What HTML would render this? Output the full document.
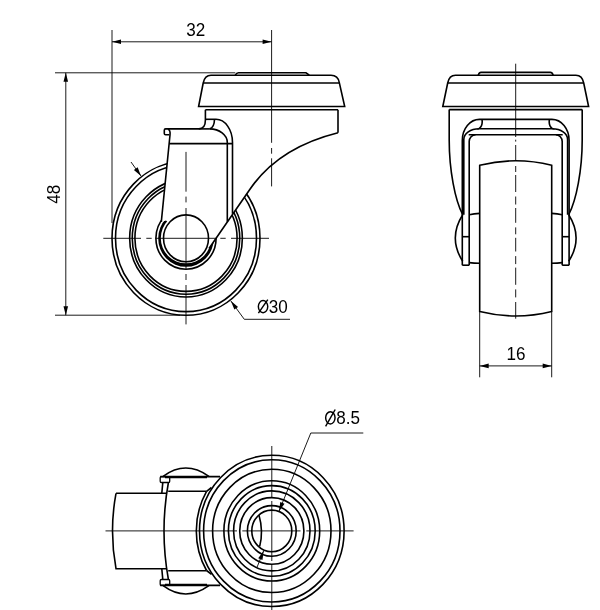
<!DOCTYPE html>
<html><head><meta charset="utf-8"><style>
html,body{margin:0;padding:0;background:#fff;}
svg{display:block;will-change:transform;}
text{font-family:"Liberation Sans",sans-serif;fill:#000;}
</style></head><body>
<svg width="600" height="610" viewBox="0 0 600 610">
<rect width="600" height="610" fill="#fff"/>
<ellipse cx="186" cy="238.3" rx="74" ry="77" stroke="#000" stroke-width="1.6" fill="none"/>
<ellipse cx="186" cy="238.3" rx="70.5" ry="73.3" stroke="#000" stroke-width="1.6" fill="none"/>
<ellipse cx="186" cy="238.3" rx="56.35" ry="58.7" stroke="#000" stroke-width="1.6" fill="none"/>
<ellipse cx="186" cy="238.3" rx="53.75" ry="55.9" stroke="#000" stroke-width="1.6" fill="none"/>
<ellipse cx="186" cy="238.3" rx="51.1" ry="53.1" stroke="#000" stroke-width="1.6" fill="none"/>
<ellipse cx="186" cy="238.3" rx="30.1" ry="30.9" stroke="#000" stroke-width="1.6" fill="none"/>
<path fill="#000" fill-rule="evenodd" d="M158.2,238.3 A27.8,28.5 0 1 0 213.8,238.3 A27.8,28.5 0 1 0 158.2,238.3 Z M160.8,238.1 A25.2,25.2 0 1 0 211.2,238.1 A25.2,25.2 0 1 0 160.8,238.1 Z"/>
<path d="M205.4,109.7 L338,109.7 L338,132.7 Q277.8,147.75 249.6,189.8 L209,248.5 L186,238 L166,220.5 L161.3,221.9 L170,135 L164.3,134.7 L164.3,129.2 L198.8,128.9 Q205.4,128.9 205.4,120 Z" fill="#fff" stroke="none"/>
<path d="M235.3,75.2 Q236.5,72.8 238.5,72.8 L306,72.8 L309.3,75.2" stroke="#000" stroke-width="1.6" fill="none"/>
<path d="M198.6,106.5 L203.2,83 Q204.8,75.3 211,75.3 L331,75.3 Q338,75.3 339.3,82.6 L344.7,106.5 Z" stroke="#000" stroke-width="1.6" fill="none"/>
<line x1="203.2" y1="83" x2="339.3" y2="83" stroke="#000" stroke-width="1.6" fill="none"/>
<line x1="205.4" y1="109.8" x2="338" y2="109.8" stroke="#000" stroke-width="1.6" fill="none"/>
<path d="M205.4,109.7 L205.4,120 Q205.4,128.9 198.8,128.9 L168,128.9" stroke="#000" stroke-width="1.6" fill="none"/>
<line x1="338" y1="109.7" x2="338" y2="132.7" stroke="#000" stroke-width="1.6" fill="none"/>
<path d="M338,132.7 Q277.8,147.75 249.6,189.8 L209,248.5" stroke="#000" stroke-width="1.6" fill="none"/>
<line x1="205.4" y1="119.3" x2="216" y2="119.3" stroke="#000" stroke-width="1.6" fill="none"/>
<path d="M214.5,119.3 Q214.3,127.8 209.6,128.9" stroke="#000" stroke-width="1.6" fill="none"/>
<line x1="198.8" y1="128.9" x2="209.6" y2="128.9" stroke="#000" stroke-width="1.6" fill="none"/>
<path d="M216,119.3 A16.5,23.2 0 0 1 232.5,142.5 L232.5,213.8" stroke="#000" stroke-width="1.6" fill="none"/>
<path d="M209.6,128.9 A17.7,13.6 0 0 1 227.3,142.5 L227.3,221.8" stroke="#000" stroke-width="1.6" fill="none"/>
<line x1="169.2" y1="143.6" x2="232.5" y2="143.6" stroke="#000" stroke-width="1.6" fill="none"/>
<path d="M168,128.9 L165.6,128.9 Q164.3,128.9 164.3,130.3 L164.3,133.4 Q164.3,134.7 165.6,134.7 L169.3,134.7" stroke="#000" stroke-width="1.6" fill="none"/>
<path d="M168,128.9 C169.6,129.6 170.3,132.5 170,135 L161.3,221.9" stroke="#000" stroke-width="1.6" fill="none"/>
<ellipse cx="186" cy="238.3" rx="22.5" ry="23.4" stroke="#000" stroke-width="1.6" fill="none"/>
<line x1="186" y1="151.9" x2="186" y2="191.7" stroke="#000" stroke-width="0.9" fill="none"/>
<line x1="186" y1="196.6" x2="186" y2="202.4" stroke="#000" stroke-width="0.9" fill="none"/>
<line x1="186" y1="208" x2="186" y2="269.4" stroke="#000" stroke-width="0.9" fill="none"/>
<line x1="186" y1="274" x2="186" y2="280" stroke="#000" stroke-width="0.9" fill="none"/>
<line x1="186" y1="285" x2="186" y2="324.4" stroke="#000" stroke-width="0.9" fill="none"/>
<line x1="103.3" y1="238.3" x2="141" y2="238.3" stroke="#000" stroke-width="0.9" fill="none"/>
<line x1="146.3" y1="238.3" x2="151.7" y2="238.3" stroke="#000" stroke-width="0.9" fill="none"/>
<line x1="155.5" y1="238.3" x2="216.5" y2="238.3" stroke="#000" stroke-width="0.9" fill="none"/>
<line x1="220.3" y1="238.3" x2="225.7" y2="238.3" stroke="#000" stroke-width="0.9" fill="none"/>
<line x1="231" y1="238.3" x2="269" y2="238.3" stroke="#000" stroke-width="0.9" fill="none"/>
<line x1="271.6" y1="30" x2="271.6" y2="142.8" stroke="#000" stroke-width="0.9" fill="none"/>
<line x1="271.6" y1="148" x2="271.6" y2="153.7" stroke="#000" stroke-width="0.9" fill="none"/>
<line x1="271.6" y1="158.3" x2="271.6" y2="186.4" stroke="#000" stroke-width="0.9" fill="none"/>
<line x1="112" y1="30" x2="112" y2="223" stroke="#000" stroke-width="0.9" fill="none"/>
<line x1="112" y1="41.8" x2="271.6" y2="41.8" stroke="#000" stroke-width="0.9" fill="none"/>
<path d="M112,41.8 L121,44.1 L121,39.5 Z" fill="#000"/>
<path d="M271.6,41.8 L262.6,39.5 L262.6,44.1 Z" fill="#000"/>
<text transform="translate(195.8 35.6) scale(0.95 1)" x="0" y="0" font-size="18" text-anchor="middle">32</text>
<line x1="55" y1="72.8" x2="235.3" y2="72.8" stroke="#000" stroke-width="0.9" fill="none"/>
<line x1="55" y1="315.2" x2="180" y2="315.2" stroke="#000" stroke-width="0.9" fill="none"/>
<line x1="65.8" y1="72.8" x2="65.8" y2="315.2" stroke="#000" stroke-width="0.9" fill="none"/>
<path d="M65.8,72.8 L63.5,81.8 L68.1,81.8 Z" fill="#000"/>
<path d="M65.8,315.2 L68.1,306.2 L63.5,306.2 Z" fill="#000"/>
<text transform="translate(60.2 194.2) rotate(-90) scale(0.95 1)" x="0" y="0" font-size="18" text-anchor="middle">48</text>
<line x1="230.9" y1="301" x2="244.3" y2="319.3" stroke="#000" stroke-width="0.9" fill="none"/>
<line x1="244.3" y1="319.3" x2="290" y2="319.3" stroke="#000" stroke-width="0.9" fill="none"/>
<path d="M230.9,301 L234.36,309.62 L238.07,306.9 Z" fill="#000"/>
<ellipse cx="263.05" cy="306.6" rx="4.7" ry="6.05" stroke="#000" stroke-width="1.45" fill="none"/>
<line x1="258.4" y1="313.2" x2="267.8" y2="299.7" stroke="#000" stroke-width="1.45"/>
<text transform="translate(268.8 312.8) scale(0.95 1)" x="0" y="0" font-size="18" text-anchor="start">30</text>
<line x1="131" y1="162" x2="141" y2="176" stroke="#000" stroke-width="0.9" fill="none"/>
<path d="M141,176 L137.64,167.34 L133.9,170.01 Z" fill="#000"/>
<path d="M478.2,75.2 Q479.3,72.4 481,72.4 L550.4,72.4 Q552.1,72.4 553.2,75.2" stroke="#000" stroke-width="1.6" fill="none"/>
<path d="M442.8,106.5 L447.7,83 Q449.2,75.2 455.5,75.2 L575.9,75.2 Q582.2,75.2 583.7,83 L588.6,106.5 Z" stroke="#000" stroke-width="1.6" fill="none"/>
<line x1="447.7" y1="83" x2="583.7" y2="83" stroke="#000" stroke-width="1.6" fill="none"/>
<line x1="449.2" y1="109.6" x2="582.2" y2="109.6" stroke="#000" stroke-width="1.6" fill="none"/>
<path d="M449.2,109.6 L449.2,140 C449.2,170 455,200 462.7,214.7" stroke="#000" stroke-width="1.6" fill="none"/>
<path d="M582.2,109.6 L582.2,140 C582.2,170 576.4,200 568.7,214.7" stroke="#000" stroke-width="1.6" fill="none"/>
<path d="M479.7,311.5 L479.7,165.3 Q515.7,156.3 551.7,165.3 L551.7,311.5 Q515.7,320.5 479.7,311.5 Z" stroke="#000" stroke-width="1.6" fill="none"/>
<path d="M462.3,265.2 L462.3,140.5 A17.2,21.1 0 0 1 479.5,119.4 L551.9,119.4 A17.2,21.1 0 0 1 569.1,140.5 L569.1,265.2" stroke="#000" stroke-width="1.6" fill="none"/>
<path d="M482,119.4 Q483,126 479,128.7 L552.4,128.7 Q548.4,126 549.4,119.4" stroke="#000" stroke-width="1.6" fill="none"/>
<path d="M463.8,214.7 L463.8,139.5 A15.2,10.8 0 0 1 479,128.7" stroke="#000" stroke-width="1.6" fill="none"/>
<path d="M567.6,214.7 L567.6,139.5 A15.2,10.8 0 0 0 552.4,128.7" stroke="#000" stroke-width="1.6" fill="none"/>
<line x1="468.7" y1="134.8" x2="562.7" y2="134.8" stroke="#000" stroke-width="1.6" fill="none"/>
<path d="M469.2,265.2 L469.2,141.5 A6.4,6.7 0 0 1 475.6,134.8" stroke="#000" stroke-width="1.6" fill="none"/>
<path d="M562.2,265.2 L562.2,141.5 A6.4,6.7 0 0 0 555.8,134.8" stroke="#000" stroke-width="1.6" fill="none"/>
<line x1="462.3" y1="265.2" x2="469.2" y2="265.2" stroke="#000" stroke-width="1.6" fill="none"/>
<line x1="562.2" y1="265.2" x2="569.1" y2="265.2" stroke="#000" stroke-width="1.6" fill="none"/>
<line x1="462.3" y1="236.7" x2="469.2" y2="236.7" stroke="#000" stroke-width="1.6" fill="none"/>
<line x1="562.2" y1="236.7" x2="569.1" y2="236.7" stroke="#000" stroke-width="1.6" fill="none"/>
<path d="M462.7,214.7 Q447.9,238 462.7,261.3" stroke="#000" stroke-width="1.6" fill="none"/>
<path d="M568.7,214.7 Q583.5,238 568.7,261.3" stroke="#000" stroke-width="1.6" fill="none"/>
<path d="M469.2,214.7 Q474,213.6 479.7,213.4" stroke="#000" stroke-width="1.6" fill="none"/>
<path d="M469.2,262.6 Q474,263.2 479.7,263.2" stroke="#000" stroke-width="1.6" fill="none"/>
<path d="M562.2,214.7 Q557.4,213.6 551.7,213.4" stroke="#000" stroke-width="1.6" fill="none"/>
<path d="M562.2,262.6 Q557.4,263.2 551.7,263.2" stroke="#000" stroke-width="1.6" fill="none"/>
<line x1="515.7" y1="63.7" x2="515.7" y2="137" stroke="#000" stroke-width="0.9" fill="none"/>
<line x1="515.7" y1="139.7" x2="515.7" y2="141.6" stroke="#000" stroke-width="0.9" fill="none"/>
<line x1="515.7" y1="145" x2="515.7" y2="161" stroke="#000" stroke-width="0.9" fill="none"/>
<line x1="515.7" y1="166" x2="515.7" y2="172" stroke="#000" stroke-width="0.9" fill="none"/>
<line x1="515.7" y1="175" x2="515.7" y2="192" stroke="#000" stroke-width="0.9" fill="none"/>
<line x1="515.7" y1="196.5" x2="515.7" y2="204.5" stroke="#000" stroke-width="0.9" fill="none"/>
<line x1="515.7" y1="208" x2="515.7" y2="222.8" stroke="#000" stroke-width="0.9" fill="none"/>
<line x1="515.7" y1="227.4" x2="515.7" y2="234.3" stroke="#000" stroke-width="0.9" fill="none"/>
<line x1="515.7" y1="237.8" x2="515.7" y2="251.5" stroke="#000" stroke-width="0.9" fill="none"/>
<line x1="515.7" y1="256.1" x2="515.7" y2="264.1" stroke="#000" stroke-width="0.9" fill="none"/>
<line x1="515.7" y1="267.6" x2="515.7" y2="284.8" stroke="#000" stroke-width="0.9" fill="none"/>
<line x1="515.7" y1="289.4" x2="515.7" y2="297.4" stroke="#000" stroke-width="0.9" fill="none"/>
<line x1="515.7" y1="302" x2="515.7" y2="318.7" stroke="#000" stroke-width="0.9" fill="none"/>
<line x1="479.7" y1="311.5" x2="479.7" y2="377.3" stroke="#000" stroke-width="0.9" fill="none"/>
<line x1="551.7" y1="311.5" x2="551.7" y2="377.3" stroke="#000" stroke-width="0.9" fill="none"/>
<line x1="479.7" y1="365.9" x2="551.7" y2="365.9" stroke="#000" stroke-width="0.9" fill="none"/>
<path d="M479.7,365.9 L488.7,368.2 L488.7,363.6 Z" fill="#000"/>
<path d="M551.7,365.9 L542.7,363.6 L542.7,368.2 Z" fill="#000"/>
<text transform="translate(516 360) scale(0.95 1)" x="0" y="0" font-size="18" text-anchor="middle">16</text>
<path d="M116,493.3 Q109,531 116,568.7 L167,568.7" stroke="#000" stroke-width="1.6" fill="none"/>
<line x1="116" y1="493.3" x2="167" y2="493.3" stroke="#000" stroke-width="1.6" fill="none"/>
<line x1="160.2" y1="476.6" x2="220" y2="476.6" stroke="#000" stroke-width="1.6" fill="none"/>
<line x1="160.2" y1="585.4" x2="220" y2="585.4" stroke="#000" stroke-width="1.6" fill="none"/>
<line x1="168.2" y1="491.3" x2="206.6" y2="491.3" stroke="#000" stroke-width="1.6" fill="none"/>
<line x1="168.2" y1="570.7" x2="206.6" y2="570.7" stroke="#000" stroke-width="1.6" fill="none"/>
<path d="M168.4,482.5 Q159.6,531 168.4,579.5" stroke="#000" stroke-width="1.6" fill="none"/>
<path d="M162.8,482.5 L161.8,493.3" stroke="#000" stroke-width="1.6" fill="none"/>
<path d="M162.8,579.5 L161.8,568.7" stroke="#000" stroke-width="1.6" fill="none"/>
<rect x="160.2" y="476.6" width="9.5" height="5.9" rx="1.2" fill="none" stroke="#000" stroke-width="1.3"/>
<rect x="160.2" y="579.5" width="9.5" height="5.9" rx="1.2" fill="none" stroke="#000" stroke-width="1.3"/>
<path d="M163.1,476.3 Q185.6,459.7 208.9,476.3" stroke="#000" stroke-width="1.6" fill="none"/>
<line x1="165" y1="477.6" x2="207" y2="477.6" stroke="#000" stroke-width="1.2"/>
<line x1="165" y1="584.4" x2="207" y2="584.4" stroke="#000" stroke-width="1.2"/>
<path d="M163.1,585.7 Q185.6,602.3 208.9,585.7" stroke="#000" stroke-width="1.6" fill="none"/>
<path d="M206.55,570.49 A75.5,78.7 0 0 1 206.55,491.31" stroke="#000" stroke-width="1.6" fill="none"/>
<line x1="206.6" y1="491.3" x2="211.5" y2="487.5" stroke="#000" stroke-width="1.6" fill="none"/>
<line x1="206.6" y1="570.5" x2="211.5" y2="574.3" stroke="#000" stroke-width="1.6" fill="none"/>
<ellipse cx="271.8" cy="530.9" rx="72.3" ry="75.6" stroke="#000" stroke-width="1.6" fill="none"/>
<ellipse cx="271.8" cy="530.9" rx="68.2" ry="71.1" stroke="#000" stroke-width="1.6" fill="none"/>
<ellipse cx="271.8" cy="530.9" rx="59.2" ry="61.6" stroke="#000" stroke-width="1.6" fill="none"/>
<ellipse cx="271.8" cy="530.9" rx="47.9" ry="50.1" stroke="#000" stroke-width="1.6" fill="none"/>
<ellipse cx="271.8" cy="530.9" rx="43.4" ry="45.3" stroke="#000" stroke-width="1.6" fill="none"/>
<ellipse cx="271.8" cy="530.9" rx="38.2" ry="40" stroke="#000" stroke-width="1.6" fill="none"/>
<ellipse cx="271.8" cy="530.9" rx="32.1" ry="33.3" stroke="#000" stroke-width="1.6" fill="none"/>
<ellipse cx="271.8" cy="530.9" rx="24.4" ry="25.3" stroke="#000" stroke-width="1.6" fill="none"/>
<ellipse cx="271.8" cy="530.9" rx="20" ry="20.8" stroke="#000" stroke-width="1.6" fill="none"/>
<path d="M259,515.2 Q263.6,531 259.7,546.4" stroke="#000" stroke-width="1.6" fill="none"/>
<line x1="105.5" y1="530.9" x2="237" y2="530.9" stroke="#000" stroke-width="0.9" fill="none"/>
<line x1="242.3" y1="530.9" x2="300.5" y2="530.9" stroke="#000" stroke-width="0.9" fill="none"/>
<line x1="306.3" y1="530.9" x2="353.6" y2="530.9" stroke="#000" stroke-width="0.9" fill="none"/>
<line x1="271.8" y1="446" x2="271.8" y2="497" stroke="#000" stroke-width="0.9" fill="none"/>
<line x1="271.8" y1="501" x2="271.8" y2="561" stroke="#000" stroke-width="0.9" fill="none"/>
<line x1="271.8" y1="565" x2="271.8" y2="615" stroke="#000" stroke-width="0.9" fill="none"/>
<line x1="363.3" y1="433" x2="310.8" y2="433" stroke="#000" stroke-width="0.9" fill="none"/>
<line x1="310.8" y1="433" x2="279" y2="511.3" stroke="#000" stroke-width="0.9" fill="none"/>
<path d="M279,511.3 L284.52,503.83 L280.26,502.1 Z" fill="#000"/>
<line x1="257" y1="567.3" x2="263.7" y2="550.7" stroke="#000" stroke-width="0.9" fill="none"/>
<path d="M263.7,550.7 L258.2,558.19 L262.46,559.91 Z" fill="#000"/>
<ellipse cx="330.35" cy="417.8" rx="4.7" ry="6.1" stroke="#000" stroke-width="1.45" fill="none"/>
<line x1="325.6" y1="426.3" x2="335.2" y2="409.5" stroke="#000" stroke-width="1.45"/>
<text transform="translate(336.3 424.3) scale(0.95 1)" x="0" y="0" font-size="18" text-anchor="start">8.5</text>
</svg></body></html>
